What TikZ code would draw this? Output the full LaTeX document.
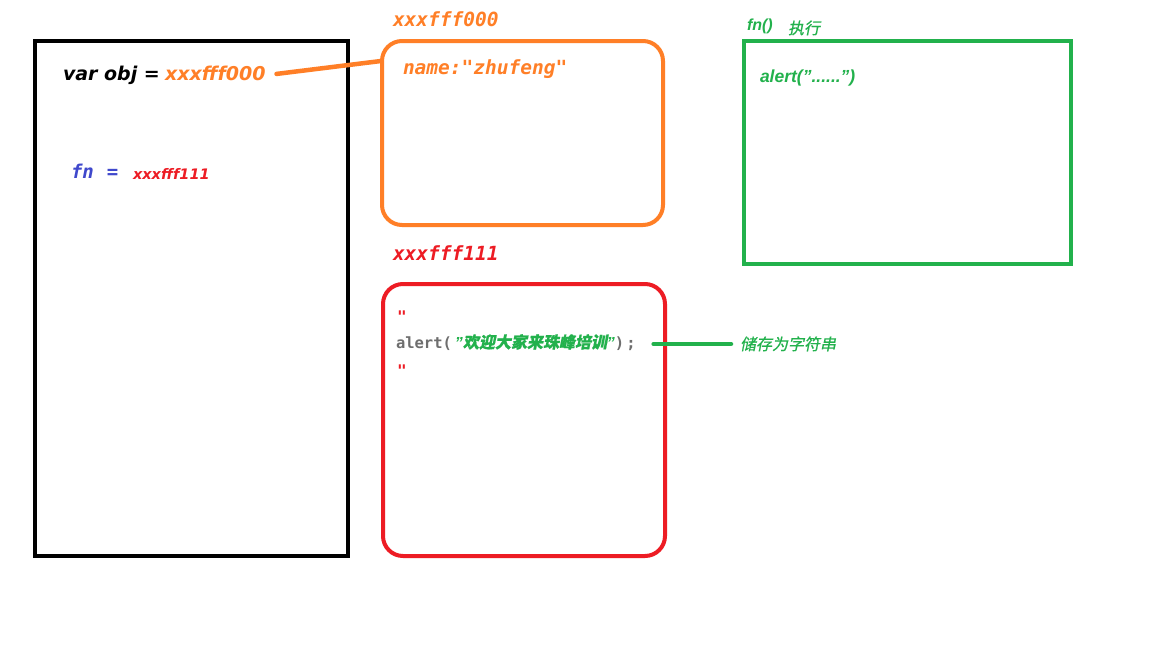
\documentclass[tikz,border=0pt]{standalone}
\usetikzlibrary{calc}
\usepackage{fontspec}
\setmainfont{Liberation Sans}
\newfontfamily\widefont{DejaVu Sans}
\newfontfamily\codefont{DejaVu Sans Mono}
\newfontfamily\cjkfont[FakeSlant=0.2,FakeBold=0.7]{Noto Sans CJK SC}
\definecolor{porange}{RGB}{255,127,39}
\definecolor{pred}{RGB}{237,28,36}
\definecolor{pgreen}{RGB}{34,177,76}
\definecolor{pblue}{RGB}{63,72,204}
\definecolor{pgray}{RGB}{110,110,110}
\begin{document}
\begin{tikzpicture}[x=1pt,y=-1pt,
  box/.style={draw,line width=4pt,minimum width=#1,inner sep=0pt},
  txt/.style={anchor=base west,inner sep=0pt,outer sep=0pt},
  lnk/.style={line width=4.5pt,line cap=round}]
\useasboundingbox[fill=white] (0,0) rectangle (1152,648);

% memory boxes
\node[box=313,minimum height=515,draw=black] (stack) at (191.5,298.5) {};
\node[box=281,minimum height=184,draw=porange,rounded corners=20pt] (objheap) at (522.5,133) {};
\node[box=282,minimum height=272,draw=pred,rounded corners=20pt] (fnheap) at (524,420) {};
\node[box=327,minimum height=223,draw=pgreen] (exec) at (907.5,152.5) {};

% stack contents
\node[txt,font=\fontsize{19}{22}\selectfont\widefont\bfseries\itshape] (objvar) at (63,80) {var obj =};
\node[txt,font=\fontsize{19}{22}\selectfont\widefont\bfseries\itshape,text=porange] (objval) at (165,80) {xxxfff000};
\node[txt,font=\fontsize{19}{22}\selectfont\codefont\bfseries\itshape,text=pblue] (fnvar) at (71,178) {fn\hspace{13pt}=};
\node[txt,font=\fontsize{14.5}{17}\selectfont\widefont\bfseries\itshape,text=pred] (fnval) at (133,179) {xxxfff111};

% object heap
\node[txt,font=\fontsize{19.5}{22}\selectfont\codefont\bfseries\itshape,text=porange] (objaddr) at (393,26) {xxxfff000};
\node[txt,font=\fontsize{19.5}{22}\selectfont\codefont\bfseries\itshape,text=porange] (objname) at (403,74) {name:"zhufeng"};

% function heap
\node[txt,font=\fontsize{19.5}{22}\selectfont\codefont\bfseries\itshape,text=pred] (fnaddr) at (393,260) {xxxfff111};
\node[txt,font=\fontsize{16}{19}\selectfont\codefont\bfseries\itshape,text=pred] (q1) at (397,322) {"};
\node[txt,font=\fontsize{15.5}{18}\selectfont\codefont\bfseries,text=pgray] (alertline) at (396,348)
  {alert(\hspace{3pt}\textcolor{pgreen}{\bfseries\itshape\fontsize{16}{19}\selectfont\rmfamily"\cjkfont 欢迎大家来珠峰培训\rmfamily"})\hspace{2pt};};
\node[txt,font=\fontsize{16}{19}\selectfont\codefont\bfseries\itshape,text=pred] (q2) at (397,376) {"};
\node[txt,font=\fontsize{16}{19}\selectfont\cjkfont,text=pgreen] (stored) at (740,350) {储存为字符串};

% execution context
\node[txt,font=\fontsize{16}{19}\selectfont\bfseries\itshape,text=pgreen] (call) at (747,30) {fn()};
\node[txt,font=\fontsize{16}{19}\selectfont\cjkfont,text=pgreen] (callnote) at (788,34) {执行};
\node[txt,font=\fontsize{17.5}{20}\selectfont\bfseries\itshape,text=pgreen] (body) at (760,82) {alert("......")};

% connectors
\coordinate (objjoin) at (381,61);
\draw[lnk,porange] ([xshift=11pt,yshift=-1pt]objval.east) -- (objjoin);
\coordinate (gstart) at ($(alertline.base east)+(18,-4)$);
\coordinate (gend) at ($(stored.west)+(-9,0)$);
\draw[lnk,pgreen] (gstart) -- (gend |- gstart);
\end{tikzpicture}
\end{document}
